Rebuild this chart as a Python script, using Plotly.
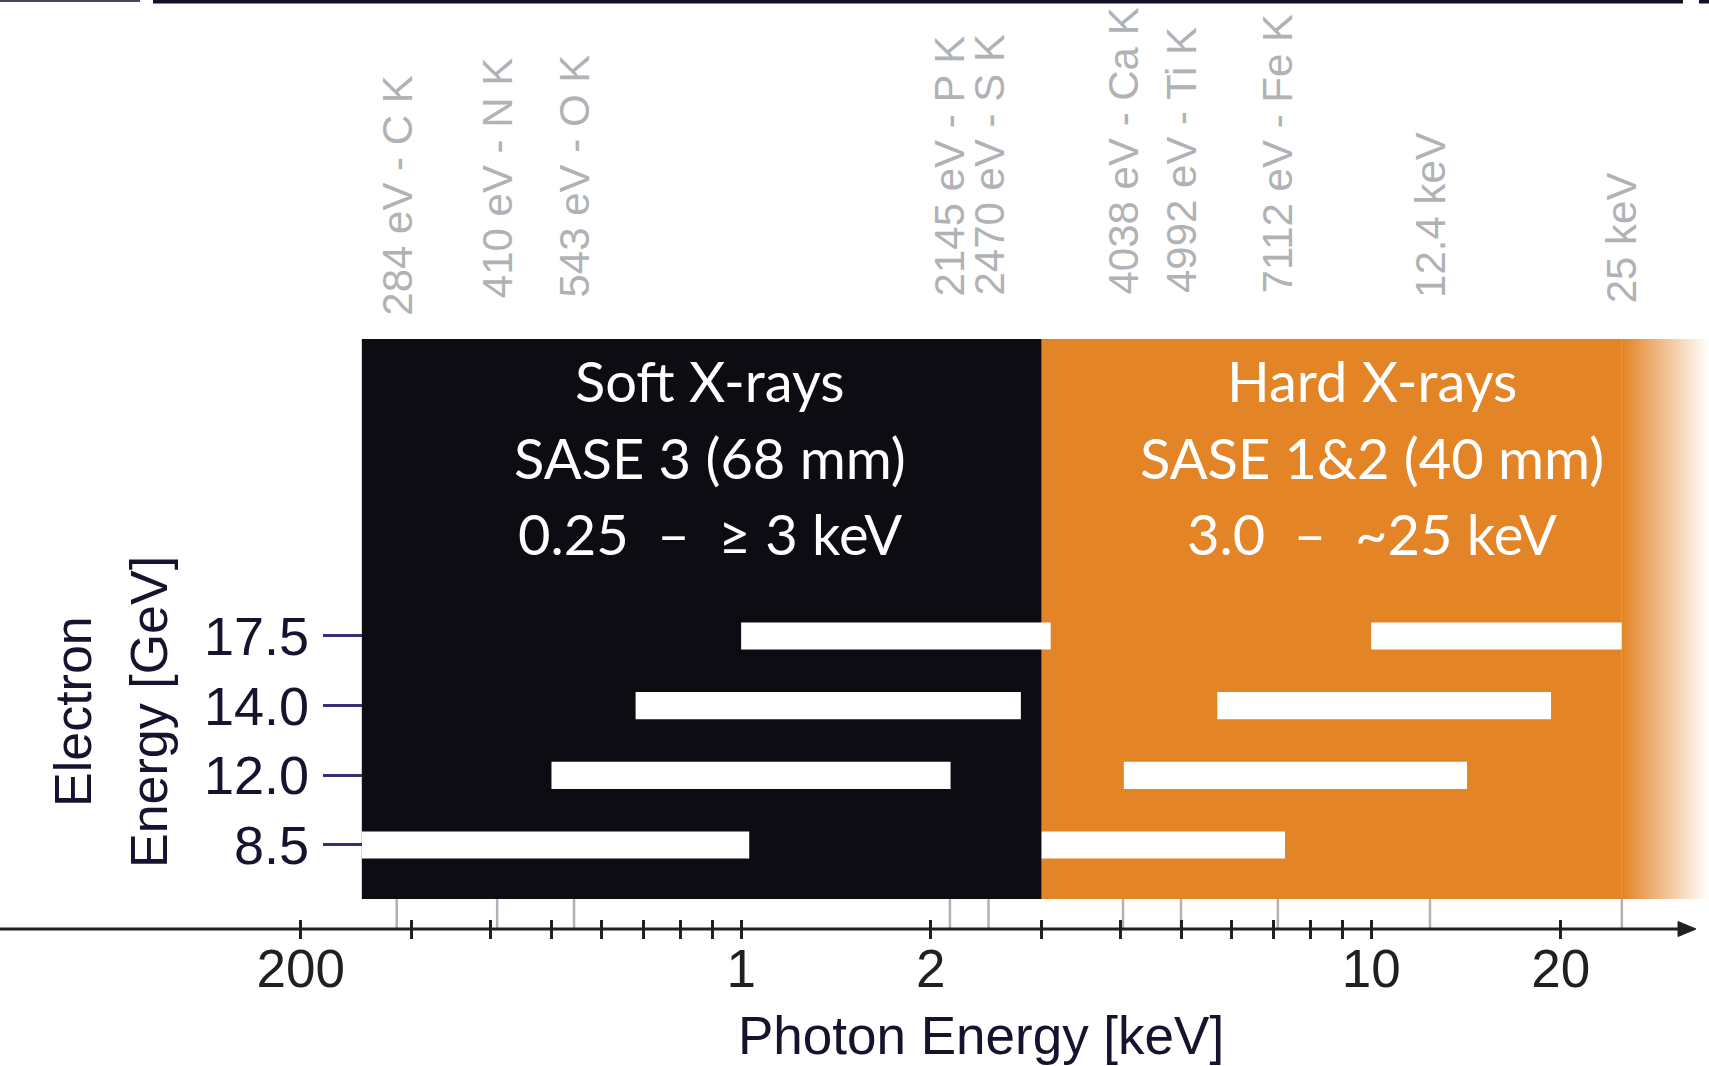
import numpy as np
import plotly.graph_objects as go

# ---------------- data ----------------
electron_energy = ['8.5', '12.0', '14.0', '17.5']          # GeV (categories)
soft_start = [0.25, 0.50, 0.68, 1.00]                       # keV
soft_end = [1.03, 2.15, 2.78, 3.10]
hard_start = [3.0, 4.05, 5.7, 10.0]
hard_end = [7.3, 14.2, 19.3, 25.0]

soft_range = [0.25, 3.0]
hard_range = [3.0, 25.0]

edge_energy_kev = [0.284, 0.410, 0.543, 2.145, 2.470, 4.038, 4.992, 7.112, 12.4, 25.0]
edge_labels = ['284 eV - C K', '410 eV - N K', '543 eV - O K', '2145 eV - P K',
               '2470 eV - S K', '4038 eV - Ca K', '4992 eV - Ti K', '7112 eV - Fe K',
               '12.4 keV', '25 keV']

tick_vals = [0.2, 0.3, 0.4, 0.5, 0.6, 0.7, 0.8, 0.9, 1, 2, 3, 4, 5, 6, 7, 8, 9, 10, 20]
tick_text = ['200', '', '', '', '', '', '', '', '1', '2', '', '', '', '', '', '', '', '10', '20']

soft_text = ['Soft X-rays', 'SASE 3 (68 mm)', '0.25\u00a0\u00a0\u2013\u00a0\u00a0\u2265 3 keV']
hard_text = ['Hard X-rays', 'SASE 1&2 (40 mm)', '3.0\u00a0\u00a0\u2013\u00a0\u00a0~25 keV']

# ---------------- layout constants ----------------
W, H = 1709, 1066
PL, PR, PT, PB = 11, 1709, 339, 929
L0, L1 = -1.1589, 1.5363
Y0, Y1 = -1.206, 7.263

BLACK = '#0e0c13'
ORANGE = '#e38426'
GREY = '#b1b2b6'
NAVY = '#16132e'
DARK = '#231f20'
PURPLE = '#3b2e78'
FONT = 'Liberation Sans, Arial, sans-serif'
BFONT = 'Lato, Open Sans, sans-serif'


def px(x):
    return (x - PL) / (PR - PL)


def py(y):
    return (PB - y) / (PB - PT)


block_bottom = py(899)

fig = go.Figure()

# gradient fade beyond the hard range
fig.add_trace(go.Scatter(
    x=[hard_range[1], 10 ** L1, 10 ** L1, hard_range[1]],
    y=[block_bottom, block_bottom, 1, 1],
    xaxis='x2', yaxis='y2', mode='none', fill='toself',
    fillgradient=dict(type='horizontal', colorscale=[[0, ORANGE], [1, '#ffffff']]),
    hoverinfo='skip', showlegend=False))

fig.add_trace(go.Bar(
    y=electron_energy, x=np.array(soft_end) - np.array(soft_start), base=soft_start,
    orientation='h', width=0.39, marker=dict(color='white', line=dict(width=0)),
    hoverinfo='skip', showlegend=False))
fig.add_trace(go.Bar(
    y=electron_energy, x=np.array(hard_end) - np.array(hard_start), base=hard_start,
    orientation='h', width=0.39, marker=dict(color='white', line=dict(width=0)),
    hoverinfo='skip', showlegend=False))

shapes = [
    dict(type='rect', xref='x', yref='paper', x0=soft_range[0], x1=soft_range[1],
         y0=block_bottom, y1=1, fillcolor=BLACK, line=dict(width=0), layer='below'),
    dict(type='rect', xref='x', yref='paper', x0=hard_range[0], x1=hard_range[1],
         y0=block_bottom, y1=1, fillcolor=ORANGE, line=dict(width=0), layer='below'),
]
for e in edge_energy_kev:
    shapes.append(dict(type='line', xref='x', yref='paper', x0=e, x1=e, y0=0, y1=block_bottom,
                       line=dict(color=GREY, width=2.5), layer='below'))
# axis line with arrow
shapes.append(dict(type='line', xref='paper', yref='paper', x0=px(0), x1=px(1682), y0=0, y1=0,
                   line=dict(color=DARK, width=3)))
shapes.append(dict(type='path', xref='paper', yref='paper',
                   path=f'M {px(1678)} {py(921.5)} L {px(1696)} {py(929)} L {px(1678)} {py(936.5)} Z',
                   fillcolor=DARK, line=dict(color=DARK, width=1)))
# top border remnants
shapes.append(dict(type='line', xref='paper', yref='paper', x0=px(0), x1=px(140), y0=py(1), y1=py(1),
                   line=dict(color='#4b4563', width=2)))
shapes.append(dict(type='line', xref='paper', yref='paper', x0=px(153), x1=px(1683), y0=py(1.5), y1=py(1.5),
                   line=dict(color='#120f26', width=4)))
shapes.append(dict(type='line', xref='paper', yref='paper', x0=px(1699), x1=px(1712), y0=py(1.5), y1=py(1.5),
                   line=dict(color='#120f26', width=4)))

annotations = []
label_bottom_px = [318, 300, 300, 298, 298, 297, 295, 295, 300, 305]
for e, t, b in zip(edge_energy_kev, edge_labels, label_bottom_px):
    annotations.append(dict(x=np.log10(e), xref='x', y=py(b), yref='paper', text=t,
                            textangle=-90, xanchor='center', yanchor='bottom', showarrow=False,
                            font=dict(family=FONT, size=42, color=GREY)))

line_y_px = [380, 457, 533]
for t, ypx in zip(soft_text, line_y_px):
    annotations.append(dict(x=px(710), xref='paper', y=py(ypx), yref='paper', text=t,
                            xanchor='center', yanchor='middle', showarrow=False,
                            font=dict(family=BFONT, size=56, color='white')))
for t, ypx in zip(hard_text, line_y_px):
    annotations.append(dict(x=px(1372), xref='paper', y=py(ypx), yref='paper', text=t,
                            xanchor='center', yanchor='middle', showarrow=False,
                            font=dict(family=BFONT, size=56, color='white')))

annotations.append(dict(x=px(981), xref='paper', y=py(1035), yref='paper', text='Photon Energy [keV]',
                        xanchor='center', yanchor='middle', showarrow=False,
                        font=dict(family=FONT, size=53, color=NAVY)))
annotations.append(dict(x=px(73), xref='paper', y=py(712), yref='paper', text='Electron',
                        textangle=-90, xanchor='center', yanchor='middle', showarrow=False,
                        font=dict(family=FONT, size=52, color=NAVY)))
annotations.append(dict(x=px(149), xref='paper', y=py(712), yref='paper', text='Energy [GeV]',
                        textangle=-90, xanchor='center', yanchor='middle', showarrow=False,
                        font=dict(family=FONT, size=52, color=NAVY)))

ypos = (np.log10(soft_range[0]) - L0) / (L1 - L0)

fig.update_layout(
    width=W, height=H, autosize=False,
    margin=dict(l=PL, r=W - PR, t=PT, b=H - PB, pad=0),
    paper_bgcolor='white', plot_bgcolor='white',
    barmode='overlay', showlegend=False,
    shapes=shapes, annotations=annotations,
    xaxis=dict(type='log', range=[L0, L1], domain=[0, 1], anchor='y',
               tickmode='array', tickvals=tick_vals, ticktext=tick_text,
               ticks='outside', ticklen=9, tickwidth=2.5, tickcolor=DARK,
               ticklabelstandoff=-16,
               tickfont=dict(family=FONT, size=53, color=DARK),
               showline=False, showgrid=False, zeroline=False),
    xaxis2=dict(type='log', range=[L0, L1], domain=[0, 1], anchor='y2', overlaying='x', side='bottom',
                tickmode='array', tickvals=tick_vals, showticklabels=False,
                ticks='inside', ticklen=9, tickwidth=2.5, tickcolor=DARK,
                showline=False, showgrid=False, zeroline=False),
    yaxis=dict(type='category', categoryorder='array', categoryarray=electron_energy,
               range=[Y0, Y1], anchor='free', position=ypos,
               ticks='outside', ticklen=39, tickwidth=3, tickcolor=PURPLE,
               ticklabelstandoff=3,
               tickfont=dict(family=FONT, size=54, color=NAVY),
               showline=False, showgrid=False, zeroline=False),
    yaxis2=dict(range=[0, 1], overlaying='y', anchor='x2', visible=False),
)

fig.write_html('out.html', config={'displayModeBar': False},
               post_script="document.body.style.margin='0';document.body.style.overflow='hidden';")
